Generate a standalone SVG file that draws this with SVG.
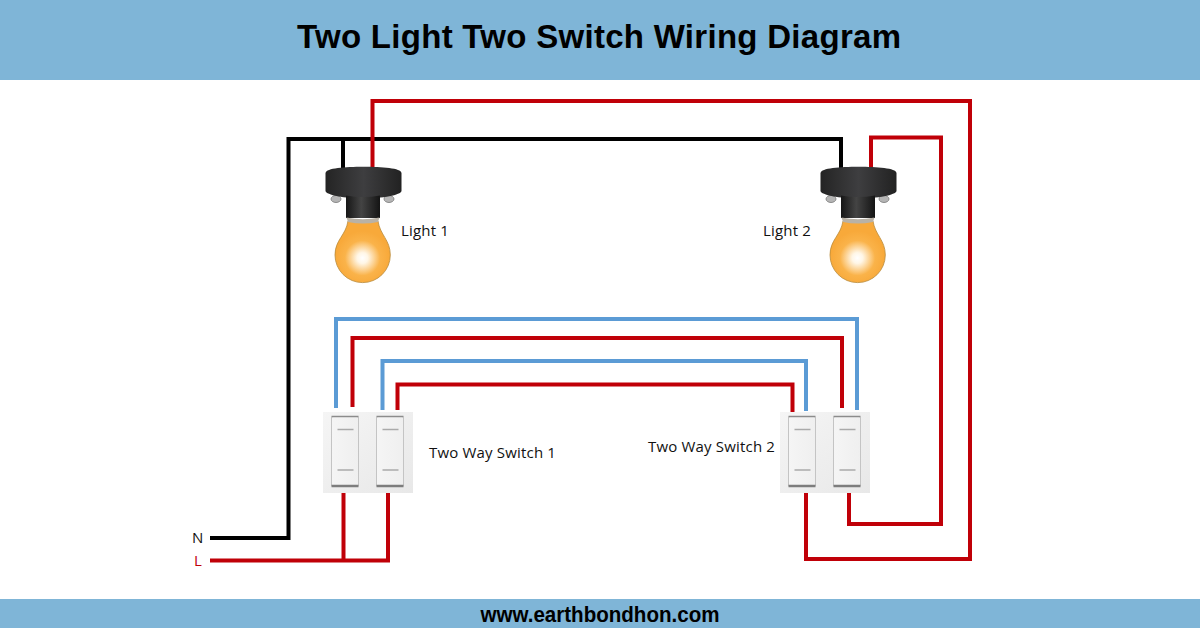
<svg xmlns="http://www.w3.org/2000/svg" width="1200" height="628" viewBox="0 0 1200 628">
<style>
.wire{fill:none;stroke-width:4;stroke-linejoin:miter}
.r{stroke:#c00008}.k{stroke:#000}.b{stroke:#5b9bd5}
.lbl{font-family:"Open Sans","Noto Sans",sans-serif;font-size:15px;letter-spacing:.18px;fill:#111}
</style>
<defs>
<linearGradient id="hold" x1="0" x2="1" y1="0" y2="0"><stop offset="0" stop-color="#242424"/><stop offset=".5" stop-color="#3e3e40"/><stop offset="1" stop-color="#222"/></linearGradient>
<linearGradient id="neck" x1="0" x2="1" y1="0" y2="0"><stop offset="0" stop-color="#161616"/><stop offset=".45" stop-color="#444"/><stop offset="1" stop-color="#141414"/></linearGradient>
<radialGradient id="glow" gradientUnits="userSpaceOnUse" cx="362.500" cy="258" r="27"><stop offset="0" stop-color="#fff"/><stop offset=".2" stop-color="#fff6e6"/><stop offset=".65" stop-color="#fab34a"/><stop offset="1" stop-color="#f8a93a"/></radialGradient>
<linearGradient id="plate" x1="0" x2="1" y1="0" y2="1"><stop offset="0" stop-color="#f5f5f5"/><stop offset="1" stop-color="#e8e8e8"/></linearGradient>
<linearGradient id="key" x1="0" x2="1" y1="0" y2="0"><stop offset="0" stop-color="#f5f5f5"/><stop offset="1" stop-color="#efefef"/></linearGradient>
<g id="lamp">
<ellipse cx="336" cy="199" rx="5" ry="3.500" fill="#b5b5b5" stroke="#777" stroke-width=".8"/>
<ellipse cx="389" cy="199" rx="5" ry="3.500" fill="#b5b5b5" stroke="#777" stroke-width=".8"/>
<path d="M325.500 173C326 168 345 166.700 363.500 166.700C382 166.700 401 168 401.500 173V191C401 195 382 198.500 363.500 198.500C345 198.500 326 195 325.500 191Z" fill="url(#hold)"/>
<path d="M346 195.500Q363 198.500 380 195.500V218H346Z" fill="url(#neck)"/>
<path d="M348 221C346 235 335 240 335 255A27.650 27.650 0 0 0 390.300 255C390.300 240 380 235 378 221Z" fill="url(#glow)" stroke="#b98a3a" stroke-width=".8"/>
<path d="M346.500 217.500Q363 221 379.500 217.500L378 222Q363 225 348 222Z" fill="#b9b2a6"/>
</g>
<g id="switch">
<rect x="0" y="0" width="90" height="81" fill="url(#plate)"/>
<g id="k1">
<rect x="8.500" y="4.500" width="27" height="70" rx="1.500" fill="url(#key)" stroke="#c4c4c4"/>
<path d="M8.500 4.500H35.500" stroke="#8c8c8c" stroke-width="1.500"/>
<path d="M8.500 74H35.500" stroke="#7d7d7d" stroke-width="2.500"/>
<path d="M14.500 17.500H30.500M14.500 58H30.500" stroke="#aaa" stroke-width="1.700"/>
</g>
<use href="#k1" x="45"/>
</g>
</defs>
<rect width="1200" height="628" fill="#fff"/>
<g id="header"><rect width="1200" height="80" fill="#7fb5d7"/>
<text x="599" y="48" text-anchor="middle" font-family="'Liberation Sans',Arial,sans-serif" font-weight="700" font-size="33" textLength="604" lengthAdjust="spacing" fill="#000">Two Light Two Switch Wiring Diagram</text></g>
<g id="footer"><rect y="599" width="1200" height="29" fill="#7fb5d7"/>
<text x="600" y="622" text-anchor="middle" font-family="'Liberation Sans',Arial,sans-serif" font-weight="700" font-size="22" textLength="239" lengthAdjust="spacingAndGlyphs" fill="#000">www.earthbondhon.com</text></g>
<g id="connectors">
<path class="wire k" d="M210 538H288.500V139H841V172"/>
<path class="wire k" d="M343 139V168"/>
<path class="wire r" d="M372.500 168V101H970V559H806V490"/>
<path class="wire r" d="M871 168V137.500H941V524H849V490"/>
<path class="wire r" d="M210 560.500H388V490"/>
<path class="wire r" d="M343.500 490V560"/>
<path class="wire b" d="M336 408V319H857V410"/>
<path class="wire r" d="M352.500 407V338H842V408"/>
<path class="wire b" d="M382.500 410V361H806V411"/>
<path class="wire r" d="M397.500 410V384.500H792.500V412"/>
</g>
<g id="light1"><use href="#lamp"/><text class="lbl" x="401" y="236">Light 1</text></g>
<g id="light2"><use href="#lamp" x="495"/><text class="lbl" x="763" y="236">Light 2</text></g>
<g id="switch1"><use href="#switch" x="323" y="412"/><text class="lbl" x="429" y="458">Two Way Switch 1</text></g>
<g id="switch2"><use href="#switch" x="780" y="412"/><text class="lbl" x="648" y="452">Two Way Switch 2</text></g>
<g id="terminalN"><text class="lbl" x="192" y="543">N</text></g>
<g id="terminalL"><text class="lbl" x="194" y="566" style="fill:#c00008">L</text></g>
</svg>
